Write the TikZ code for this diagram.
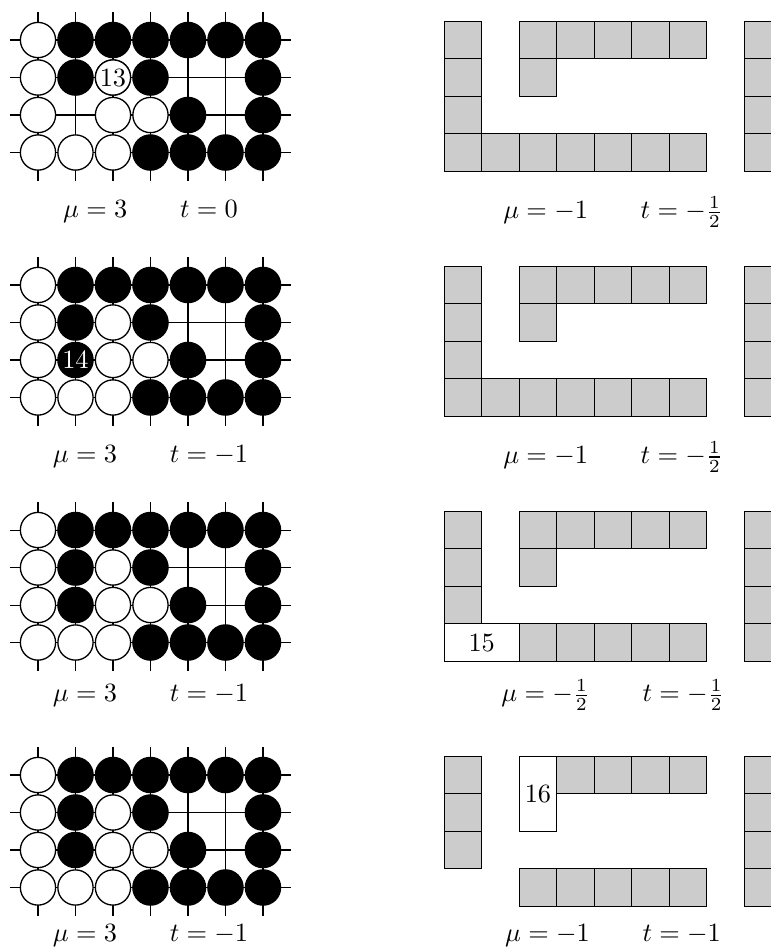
\documentclass[tikz,border=0pt]{standalone}
\usepackage{tikz}
\definecolor{Tile}{gray}{0.8}

\begin{document}
\begin{tikzpicture}[
    x=5mm, y=5mm,
    stoneW/.style={circle, draw=black, fill=white, line width=0.5pt,
      minimum size=4.7mm, inner sep=0pt},
    stoneB/.style={circle, draw=black, fill=black, line width=0.5pt,
      minimum size=4.7mm, inner sep=0pt},
    tile/.style={draw=black, fill=Tile, line width=0.4pt},
    blank/.style={draw=black, fill=white, line width=0.4pt, inner sep=0pt},
    gline/.style={line width=0.4pt}
  ]
    \clip (-1.013,1.067) rectangle (19.547,-24.32);

    % go boards on the left
    \foreach \b/\y in {1/0,2/-6.533,3/-13.067,4/-19.6} {
      \foreach \r in {0,...,3}
        \draw[gline] (-0.75,\y-\r) -- (6.75,\y-\r);
      \foreach \c in {0,...,6}
        \draw[gline] (\c,\y+0.75) -- (\c,\y-3.75);
      \foreach \c/\r in {1/0,2/0,3/0,4/0,5/0,6/0,1/1,3/1,6/1,4/2,6/2,3/3,4/3,5/3,6/3}
        \node[stoneB] (b\b-\c-\r) at (\c,\y-\r) {};
      \foreach \c/\r in {0/0,0/1,2/1,0/2,2/2,3/2,0/3,1/3,2/3}
        \node[stoneW] (w\b-\c-\r) at (\c,\y-\r) {};
    }
    \node[stoneW] (w13) at (2,-1) {13};
    \node[stoneB, text=white] (b14) at (1,-8.533) {14};
    \node[stoneB] (b3-1-2) at (1,-15.067) {};
    \node[stoneB] (b4-1-2) at (1,-21.6) {};

    % tilings on the right
    \foreach \b/\y in {1/0,2/-6.533,3/-13.067,4/-19.6} {
      \foreach \c/\r in {0/0,0/1,0/2,3/0,4/0,5/0,6/0,2/3,3/3,4/3,5/3,6/3,8/0,8/1,8/2,8/3}
        \draw[tile] (10.833+\c,\y+0.5-\r) rectangle ++(1,-1);
    }
    \foreach \y in {0,-6.533,-13.067}
      \draw[tile] (12.833,\y+0.5) rectangle ++(1,-1) ++(-1,0) rectangle ++(1,-1);
    \foreach \y in {0,-6.533}
      \draw[tile] (10.833,\y-2.5) rectangle ++(1,-1) rectangle ++(1,1);
    \node[blank, minimum width=10mm, minimum height=5mm] (t15) at (11.833,-16.067) {15};
    \node[blank, minimum width=5mm, minimum height=10mm] (t16) at (13.333,-20.1) {16};

    % captions
    \node (cap1) at (3,-4.587) {$\mu = 3 \qquad t = 0$};
    \node (cap1r) at (15.333,-4.587) {$\mu = -1 \qquad t = -\frac{1}{2}$};
    \node (cap2) at (3,-11.12) {$\mu = 3 \qquad t = -1$};
    \node (cap2r) at (15.333,-11.12) {$\mu = -1 \qquad t = -\frac{1}{2}$};
    \node (cap3) at (3,-17.47) {$\mu = 3 \qquad t = -1$};
    \node (cap3r) at (15.333,-17.47) {$\mu = -\frac{1}{2} \qquad t = -\frac{1}{2}$};
    \node (cap4) at (3,-23.87) {$\mu = 3 \qquad t = -1$};
    \node (cap4r) at (15.333,-23.87) {$\mu = -1 \qquad t = -1$};
\end{tikzpicture}
\end{document}
